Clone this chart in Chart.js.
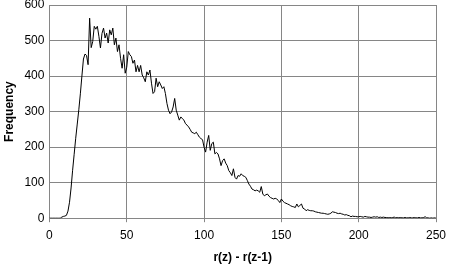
<!DOCTYPE html>
<html>
<head>
<meta charset="utf-8">
<script src="https://cdn.jsdelivr.net/npm/chart.js@4/dist/chart.umd.min.js"></script>
<style>
    html, body { margin: 0; padding: 0; background: #ffffff; }
    #wrap { width: 450px; height: 266px; }
</style>
</head>
<body>
<div id="wrap"><canvas id="freqChart" width="450" height="266"></canvas></div>
<script>
// frequency per difference r(z) - r(z-1), one value per integer 0..250
const frequency = [
    0, 0, 0, 0, 0, 0, 0, 0, 3, 5,
    6, 8, 20, 45, 85, 135, 180, 225, 265, 305,
    350, 400, 448, 462, 458, 432, 563, 480, 497, 540,
    532, 540, 512, 479, 520, 535, 507, 521, 493, 530,
    516, 535, 488, 507, 469, 488, 450, 422, 460, 408,
    425, 469, 460, 455, 436, 445, 412, 430, 412, 430,
    403, 395, 384, 412, 403, 417, 380, 351, 356, 394,
    370, 384, 375, 365, 370, 351, 323, 304, 294, 299,
    313, 337, 304, 290, 276, 285, 280, 276, 266, 262,
    257, 250, 242, 240, 238, 242, 235, 228, 224, 221,
    200, 186, 214, 233, 191, 210, 214, 181, 185, 181,
    167, 148, 162, 167, 155, 148, 134, 128, 120, 139,
    115, 110, 120, 118, 125, 120, 118, 115, 106, 96,
    90, 82, 80, 77, 79, 77, 73, 89, 68, 63,
    66, 68, 62, 58, 56, 54, 56, 54, 50, 44,
    54, 48, 44, 42, 40, 38, 35, 33, 32, 30,
    40, 32, 36, 40, 28, 26, 21, 24, 22, 21,
    21, 20, 18, 17, 16, 15, 14, 14, 13, 12,
    11, 12, 14, 18, 17, 16, 14, 13, 14, 12,
    11, 9, 10, 8, 7, 4, 6, 5, 5, 4,
    4, 5, 4, 3, 5, 4, 3, 3, 2, 3,
    4, 3, 4, 2, 3, 2, 3, 2, 2, 1,
    2, 1, 2, 3, 1, 2, 1, 2, 1, 1,
    2, 1, 1, 2, 1, 1, 2, 1, 1, 2,
    1, 1, 2, 4, 1, 1, 0, 1, 0, 1,
    0
];

const xTicks = [0, 50, 100, 150, 200, 250];
const yTicks = [0, 100, 200, 300, 400, 500, 600];

const xTitle = 'r(z) - r(z-1)';
const yTitle = 'Frequency';

const gridColor = '#868686';
const fontFamily = "'Liberation Sans', Arial, sans-serif";

// 점 데이터 생성 (x = 인덱스)
const points = frequency.map((v, i) => ({ x: i, y: v }));

const ctx = document.getElementById('freqChart').getContext('2d');
new Chart(ctx, {
    type: 'line',
    data: {
        datasets: [{
            data: points,
            borderColor: '#000000',
            borderWidth: 1,
            pointRadius: 0,
            fill: false,
            tension: 0
        }]
    },
    options: {
        responsive: false,
        animation: false,
        layout: { padding: { left: 2, right: 14, top: 5, bottom: 1 } },
        plugins: {
            legend: { display: false },
            tooltip: { enabled: false }
        },
        scales: {
            x: {
                type: 'linear',
                min: xTicks[0],
                max: xTicks[xTicks.length - 1],
                afterBuildTicks: (axis) => { axis.ticks = xTicks.map(v => ({ value: v })); },
                afterFit: (axis) => { axis.paddingRight = 0; axis.paddingLeft = 0; },
                grid: { color: gridColor, lineWidth: 1, drawTicks: true, tickLength: 4 },
                border: { color: gridColor, width: 1 },
                ticks: { color: '#000000', font: { family: fontFamily, size: 12 }, padding: 6, maxRotation: 0 },
                title: { display: true, text: xTitle, color: '#000000', font: { family: fontFamily, size: 12, weight: 'bold' }, padding: { top: 2, bottom: 0 } }
            },
            y: {
                min: yTicks[0],
                max: yTicks[yTicks.length - 1],
                afterBuildTicks: (axis) => { axis.ticks = yTicks.map(v => ({ value: v })); },
                afterFit: (axis) => { axis.paddingTop = 0; axis.paddingBottom = 0; },
                grid: { color: gridColor, lineWidth: 1, drawTicks: false },
                border: { color: gridColor, width: 1 },
                ticks: { color: '#000000', font: { family: fontFamily, size: 12 }, padding: 5 },
                title: { display: true, text: yTitle, color: '#000000', font: { family: fontFamily, size: 12, weight: 'bold' }, padding: { top: 0, bottom: 3 } }
            }
        }
    }
});
</script>
</body>
</html>
